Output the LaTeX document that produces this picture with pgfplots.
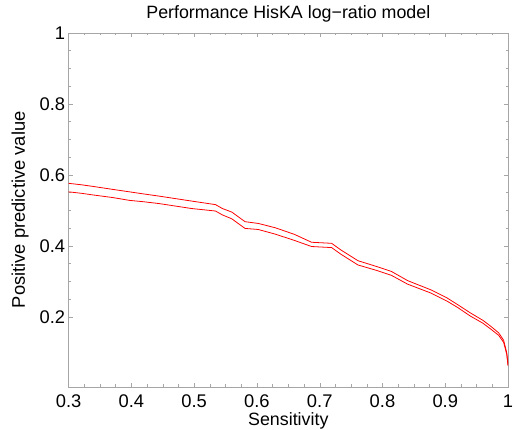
\documentclass[border=0pt]{standalone}
\usepackage{pgfplots}
\pgfplotsset{compat=1.18}
\usepackage{fontspec}
\setmainfont{Liberation Sans}
\begin{document}
\begin{tikzpicture}[x=1bp,y=1bp]
\useasboundingbox (-69bp,-43bp) rectangle (448bp,389bp);
\begin{axis}[
  at={(0,0)}, anchor=south west,
  scale only axis,
  width=442bp, height=356bp,
  xmin=0.3, xmax=1, ymin=0.003, ymax=1,
  xtick={0.3,0.4,...,1.0},
  xticklabels={0.3,0.4,0.5,0.6,0.7,0.8,0.9,1},
  ytick={0.2,0.4,0.6,0.8,1},
  yticklabels={0.2,0.4,0.6,0.8,1},
  minor x tick num=3,
  minor y tick num=3,
  tick align=inside,
  axis line style={gray!70},
  every tick/.style={gray!70},
  major tick length=4bp, minor tick length=2.5bp,
  /pgf/number format/assume math mode=true,
  tick label style={font=\fontsize{18.5}{18.5}\selectfont},
  xticklabel style={anchor=base, yshift=-21bp},
  yticklabel style={xshift=0bp},
  label style={font=\fontsize{18}{18}\selectfont},
  title style={font=\fontsize{18}{18}\selectfont, at={(axis description cs:0.5,1)}, anchor=base, yshift=8bp},
  title={Performance HisKA log\textminus ratio model},
  xlabel={Sensitivity},
  ylabel={Positive predictive value},
  xlabel style={at={(axis description cs:0.5,0)}, anchor=base, yshift=-39bp},
  ylabel style={at={([xshift=-44bp]axis description cs:0,0.5)}, anchor=base, font=\fontsize{18.5}{18.5}\selectfont},
  clip=true,
]
\addplot[red, line width=0.8pt] coordinates {
(0.300,0.576)(0.320,0.572)(0.340,0.567)(0.370,0.559)(0.397,0.552)(0.420,0.546)
(0.444,0.540)(0.470,0.533)(0.496,0.526)(0.534,0.516)(0.545,0.505)(0.560,0.495)
(0.581,0.468)(0.602,0.463)(0.629,0.451)(0.660,0.432)(0.687,0.410)(0.719,0.407)
(0.734,0.388)(0.761,0.358)(0.790,0.342)(0.814,0.328)(0.840,0.302)(0.877,0.276)
(0.903,0.253)(0.920,0.234)(0.940,0.211)(0.960,0.190)(0.972,0.174)(0.985,0.155)
(0.993,0.134)(0.998,0.098)(1.000,0.065)
};
\addplot[red, line width=0.8pt] coordinates {
(0.300,0.552)(0.320,0.548)(0.340,0.543)(0.370,0.536)(0.397,0.528)(0.420,0.524)
(0.444,0.519)(0.470,0.512)(0.496,0.505)(0.534,0.498)(0.545,0.487)(0.560,0.476)
(0.581,0.449)(0.602,0.446)(0.629,0.433)(0.660,0.415)(0.687,0.398)(0.719,0.395)
(0.734,0.376)(0.761,0.346)(0.790,0.331)(0.814,0.317)(0.840,0.292)(0.877,0.267)
(0.903,0.244)(0.920,0.226)(0.940,0.202)(0.960,0.182)(0.972,0.166)(0.985,0.148)
(0.993,0.128)(0.998,0.094)(1.000,0.062)
};
\end{axis}
\end{tikzpicture}
\end{document}
